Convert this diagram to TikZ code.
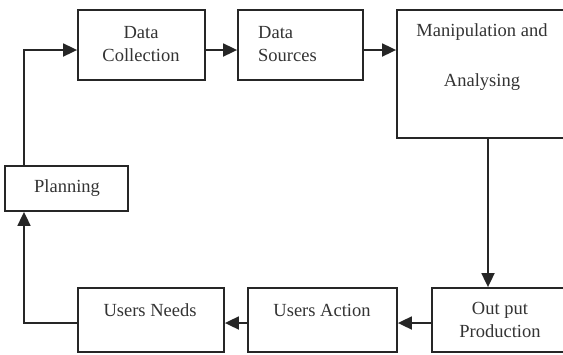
\documentclass[tikz,border=0pt]{standalone}
\usepackage{fontspec}
\setmainfont{Liberation Serif}
\usetikzlibrary{arrows.meta}
\begin{document}
\begin{tikzpicture}[x=1pt,y=-1pt,
  box/.style={draw=black!85,line width=1.8pt,inner sep=0pt,rectangle},
  txt/.style={font=\fontsize{18.5}{23}\selectfont,align=center,inner sep=0pt,text=black!80},
  arr/.style={draw=black!85,line width=1.8pt,-{Triangle[length=14pt,width=13pt]}}]
\useasboundingbox (0,0) rectangle (563,354);
\clip (0,0) rectangle (563,354);
% boxes
\node[box,minimum width=127pt,minimum height=70pt] (dc) at (141.5,45) {};
\node[box,minimum width=125pt,minimum height=70pt] (ds) at (300.5,45) {};
\node[box,minimum width=171pt,minimum height=128pt] (ma) at (482.5,74) {};
\node[box,minimum width=123pt,minimum height=45pt] (pl) at (66.5,188.5) {};
\node[box,minimum width=146pt,minimum height=64pt] (un) at (151,320) {};
\node[box,minimum width=149pt,minimum height=64pt] (ua) at (322.5,320) {};
\node[box,minimum width=136pt,minimum height=64pt] (op) at (500,320) {};
% texts
\node[txt] (dct) at (141,44) {Data\\Collection};
\node[txt,anchor=west,align=left] (dst) at (258,44) {Data\\Sources};
\node[txt] (mat1) at (482,32) {Manipulation and};
\node[txt] (mat2) at (482,82) {Analysing};
\node[txt] (plt) at (67,188) {Planning};
\node[txt] (unt) at (150,310) {Users Needs};
\node[txt] (uat) at (322,310) {Users Action};
\node[txt] (opt) at (500,320) {Out put\\Production};
% helper coordinates
\coordinate (lx) at (24,0);
\coordinate (dx) at (488,0);
\coordinate (ty) at (0,50);
\coordinate (by) at (0,323);
% connectors
\draw[arr] (pl.north -| lx) |- (dc.west |- ty);
\draw[arr] (dc.east |- ty) -- (ds.west |- ty);
\draw[arr] (ds.east |- ty) -- (ma.west |- ty);
\draw[arr] (ma.south -| dx) -- (op.north -| dx);
\draw[arr] (op.west |- by) -- (ua.east |- by);
\draw[arr] (ua.west |- by) -- (un.east |- by);
\draw[arr] (un.west |- by) -| (pl.south -| lx);
\end{tikzpicture}
\end{document}
